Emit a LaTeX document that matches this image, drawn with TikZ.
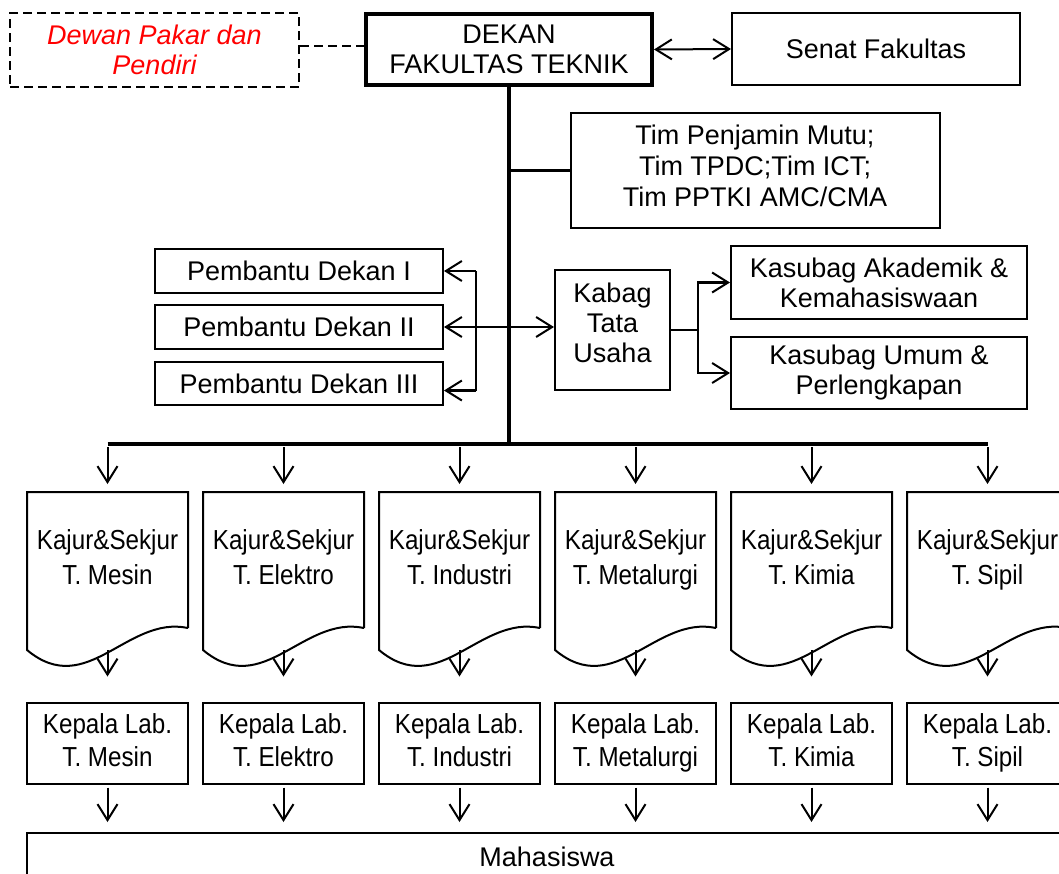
\documentclass[tikz,border=0pt]{standalone}
\usepackage{fontspec}
\setmainfont{Liberation Sans}
\newfontfamily\narrowfont[FakeStretch=0.88]{Liberation Sans}
\usetikzlibrary{arrows.meta,calc}
\begin{document}
\begin{tikzpicture}[x=1pt,y=-1pt,
  box/.style={draw, line width=2pt, align=center, inner sep=0pt,
    font=\fontsize{27}{30}\selectfont},
  thickbox/.style={box, line width=4pt},
  dashbox/.style={box, dash pattern=on 9pt off 5pt, text=red,
    font=\fontsize{27}{30}\selectfont\itshape},
  docnode/.style={inner sep=0pt, outer sep=0pt, align=center,
    minimum width=161pt, minimum height=136pt,
    font=\narrowfont\fontsize{27.5}{35}\selectfont},
  labbox/.style={box, minimum width=161pt, minimum height=81pt,
    font=\narrowfont\fontsize{27.5}{33}\selectfont},
  docline/.style={draw, line width=2pt, line join=miter},
  conn/.style={line width=2.5pt},
  spine/.style={line width=4pt},
  tip/.tip={Straight Barb[length=16pt,width=20pt,line width=2pt]},
  arr/.style={-tip, line width=2pt},
  arrtwo/.style={tip-tip, line width=2.5pt},
  dashline/.style={line width=2pt, dash pattern=on 9pt off 5pt}
]
\useasboundingbox (0,0) rectangle (1059,873);
\clip (0,0) rectangle (1059,873);

% top row
\node[dashbox, minimum width=289pt, minimum height=74pt] (dewan) at (154.5,50) {Dewan Pakar dan\\Pendiri};
\node[thickbox, minimum width=286pt, minimum height=71pt] (dekan) at (509,49.5) {DEKAN\\FAKULTAS TEKNIK};
\node[box, minimum width=288pt, minimum height=72pt] (senat) at (876,49) {Senat Fakultas};

\draw[dashline] ($(dewan.east)+(0,-4)$) -- ($(dekan.west)+(0,-3.5)$);
\draw[arrtwo, line width=2pt] (dekan.east) -- (senat.west);

% Tim
\node[box, minimum width=369pt, minimum height=115pt, font=\fontsize{27}{31}\selectfont] (tim) at (755,170.5) {Tim Penjamin Mutu;\\Tim TPDC;Tim ICT;\\Tim PPTKI AMC/CMA\\[-21pt]\mbox{}};

% Pembantu Dekan
\node[box, minimum width=288pt, minimum height=44pt] (pd1) at (299,271) {Pembantu Dekan I};
\node[box, minimum width=288pt, minimum height=44pt] (pd2) at (299,327) {Pembantu Dekan II};
\node[box, minimum width=288pt, minimum height=43pt] (pd3) at (299,383.5) {Pembantu Dekan III};

% Kabag and Kasubag
\node[box, minimum width=115pt, minimum height=120pt] (kabag) at (612.5,330) {Kabag\\Tata\\Usaha\\[-16pt]\mbox{}};
\node[box, minimum width=296pt, minimum height=73pt] (ks1) at (879,282.5) {Kasubag Akademik \&\\Kemahasiswaan};
\node[box, minimum width=296pt, minimum height=72pt] (ks2) at (879,373) {Kasubag Umum \&\\Perlengkapan};

% bus level
\coordinate (busy) at (0,444);
\coordinate (pb) at (476,0);
\coordinate (kb) at (698,0);

% spine
\draw[spine] (dekan.south) -- (dekan.south |- busy);
\draw[line width=3pt] (tim.west) -- (tim.west -| dekan.south);

% Pembantu bracket
\coordinate (p3) at ($(pd3.east)+(0,7)$);
\draw[conn] (pd1.east -| pb) -- (p3 -| pb);
\draw[arr, line width=2.5pt] (pd1.east -| pb) -- (pd1.east);
\draw[arr, line width=2.5pt] (p3 -| pb) -- (p3);
\draw[arrtwo] (pd2.east) -- (pd2.east -| kabag.west);

% Kabag to Kasubag
\draw[conn] (kabag.east) -- (kabag.east -| kb);
\draw[arr, line width=2.5pt] (kabag.east -| kb) |- (ks1.west);
\draw[arr, line width=2.5pt] (kabag.east -| kb) |- (ks2.west);

% Mahasiswa
\node[box, minimum width=1040pt, minimum height=47pt] (maha) at (547,856.5) {Mahasiswa};

% departments
\foreach \i/\x/\t in {1/107.5/Mesin, 2/283.5/Elektro, 3/459.5/Industri, 4/635.5/Metalurgi, 5/811.5/Kimia, 6/987.5/Sipil}{
  \node[docnode] (d\i) at (\x,560) {Kajur\&Sekjur\\T. \t\vphantom{gp}};
  \draw[docline] (d\i.south east) -- (d\i.north east) -- (d\i.north west)
    -- ($(d\i.south west)+(0,22)$)
    .. controls ($(d\i.south west)+(60,72)$) and ($(d\i.south west)+(100,-13)$) .. (d\i.south east);
  \node[labbox] (l\i) at (\x,743) {Kepala Lab.\\T. \t\vphantom{gp}};
  \draw[arr, shorten <=3pt, shorten >=8pt] (d\i.north |- busy) -- (d\i.north);
  \draw[arr, shorten <=22pt, shorten >=25pt] (d\i.south) -- (l\i.north);
  \draw[arr, shorten <=3pt, shorten >=10pt] (l\i.south) -- (l\i.south |- maha.north);
}
\draw[spine] (d1.north |- busy) -- (d6.north |- busy);
\end{tikzpicture}
\end{document}
